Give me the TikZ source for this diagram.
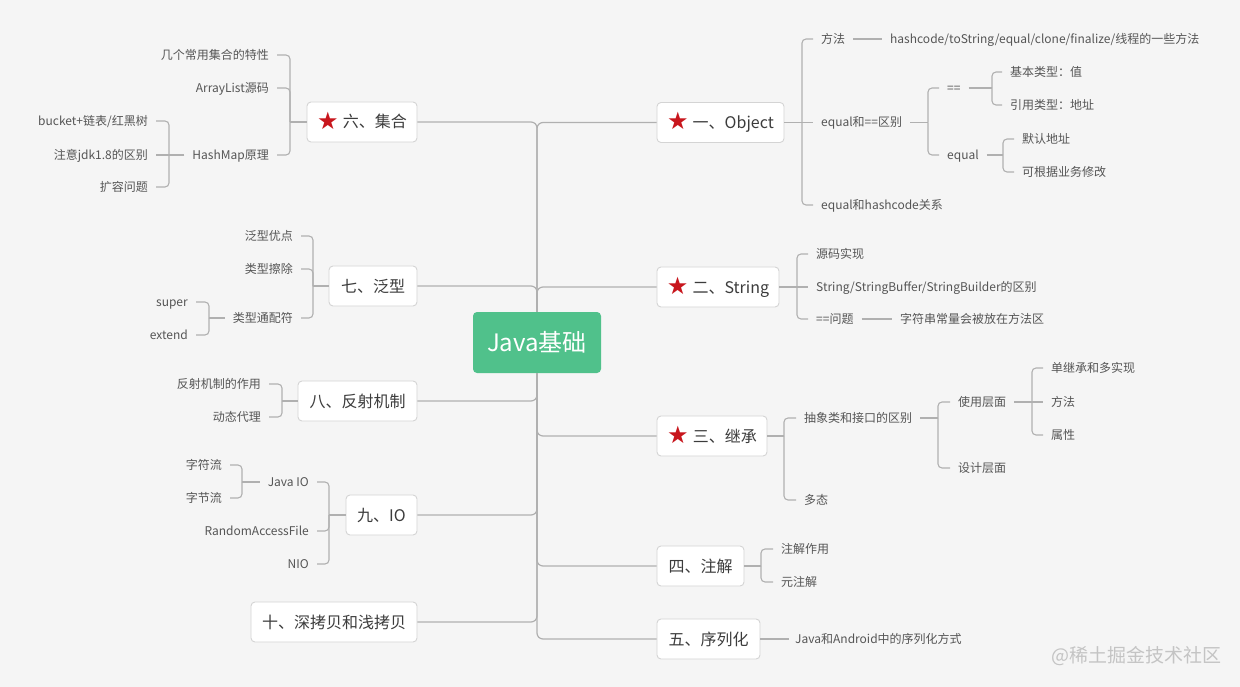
\documentclass[tikz,border=0pt]{standalone}
\usepackage{fontspec}
\setmainfont{Noto Sans CJK SC}
\newfontfamily\symfont{DejaVu Sans}
\definecolor{bgc}{HTML}{F5F5F5}
\definecolor{lnc}{HTML}{B0B0B0}
\definecolor{boxc}{HTML}{D4D4D4}
\definecolor{tc}{HTML}{555555}
\definecolor{mtc}{HTML}{3C3C3C}
\definecolor{starred}{HTML}{C8161D}
\definecolor{rootc}{HTML}{50C18B}
\definecolor{wmc}{HTML}{C4C4C4}
\newcommand\rstar{\raisebox{-1.5pt}{\symfont\fontsize{24}{24}\selectfont\color{starred}★}\hspace{4pt}}
\begin{document}
\begin{tikzpicture}[x=1pt,y=-1pt,
  box/.style={draw=boxc, fill=white, rounded corners=4pt, line width=0.9pt, minimum height=40pt, inner sep=0pt, font=\fontsize{16}{19}\selectfont, text=mtc, text height=14pt, text depth=2pt},
  leaf/.style={inner xsep=8pt, inner ysep=0pt, font=\fontsize{12}{14}\selectfont, text=tc, text height=10.5pt, text depth=1.5pt},
  lr/.style={leaf, anchor=west},
  ll/.style={leaf, anchor=east},
  ln/.style={draw=lnc, line width=1.1pt, rounded corners=4pt},
  sp/.style={draw=lnc, line width=1.2pt, rounded corners=6pt}]
\fill[bgc] (0,0) rectangle (1240,687);
\useasboundingbox (0,0) rectangle (1240,687);

% root
\node[fill=rootc, rounded corners=4pt, minimum width=128pt, minimum height=61pt, inner sep=0pt, text=white, font=\fontsize{24}{28}\selectfont, text height=21pt, text depth=3pt] (root) at (537,342.5) {Java基础};

% main boxes
\node[box, minimum width=127pt] (obj) at (720.5,122.5) {\rstar 一、Object};
\node[box, minimum width=122pt] (str) at (718,287) {\rstar 二、String};
\node[box, minimum width=110pt] (inh) at (712,436) {\rstar 三、继承};
\node[box, minimum width=87pt] (ann) at (700.5,566) {四、注解};
\node[box, minimum width=103pt] (ser) at (708.5,639) {五、序列化};
\node[box, minimum width=110pt] (col) at (362,122) {\rstar 六、集合};
\node[box, minimum width=88pt] (gen) at (373,286) {七、泛型};
\node[box, minimum width=119pt] (ref) at (357.5,401) {八、反射机制};
\node[box, minimum width=71pt] (io) at (381.5,515) {九、IO};
\node[box, minimum width=166pt] (cpy) at (334,622) {十、深拷贝和浅拷贝};

% spine branches
\draw[sp] (root.north) |- (obj);
\draw[sp] (root.north) |- (str);
\draw[sp] (root.south) |- (inh);
\draw[sp] (root.south) |- (ann);
\draw[sp] (root.south) |- (ser);
\draw[sp] (root.north) |- (col);
\draw[sp] (root.north) |- (gen);
\draw[sp] (root.south) |- (ref);
\draw[sp] (root.south) |- (io);
\draw[sp] (root.south) |- (cpy);

% ---- Object
\node[lr] (o1) at (813,39) {方法};
\node[lr] (oh) at (882,39) {hashcode/toString/equal/clone/finalize/线程的一些方法};
\node[lr] (o2) at (813,122.5) {equal和==区别};
\node[lr] (o3) at (813,205) {equal和hashcode关系};
\node[lr] (eq1) at (939,88) {==};
\node[lr] (eq2) at (939,155) {equal};
\node[lr] (b1) at (1002,72) {基本类型：值};
\node[lr] (b2) at (1002,105) {引用类型：地址};
\node[lr] (d1) at (1014,139) {默认地址};
\node[lr] (d2) at (1014,172) {可根据业务修改};
\coordinate (bO) at (802,122.5);
\coordinate (bE) at (928,122.5);
\coordinate (bEq) at (992,88);
\coordinate (bEl) at (1003,155);
\draw[ln] (obj) -- (o2);
\draw[ln] (bO) |- (o1);
\draw[ln] (bO) |- (o3);
\draw[ln] (o1) -- (oh);
\draw[ln] (o2) -- (bE);
\draw[ln] (bE) |- (eq1);
\draw[ln] (bE) |- (eq2);
\draw[ln] (eq1) -- (bEq);
\draw[ln] (bEq) |- (b1);
\draw[ln] (bEq) |- (b2);
\draw[ln] (eq2) -- (bEl);
\draw[ln] (bEl) |- (d1);
\draw[ln] (bEl) |- (d2);

% ---- String
\node[lr] (s1) at (808,254) {源码实现};
\node[lr] (s2) at (808,287) {String/StringBuffer/StringBuilder的区别};
\node[lr] (s3) at (808,319) {==问题};
\node[lr] (s4) at (892,319) {字符串常量会被放在方法区};
\coordinate (bS) at (797,287);
\draw[ln] (str) -- (s2);
\draw[ln] (bS) |- (s1);
\draw[ln] (bS) |- (s3);
\draw[ln] (s3) -- (s4);

% ---- 继承
\node[lr] (i1) at (796,418) {抽象类和接口的区别};
\node[lr] (i2) at (796,500) {多态};
\node[lr] (u1) at (950,402) {使用层面};
\node[lr] (u2) at (950,468) {设计层面};
\node[lr] (m1) at (1043,368) {单继承和多实现};
\node[lr] (m2) at (1043,402) {方法};
\node[lr] (m3) at (1043,435) {属性};
\coordinate (bI) at (784,436);
\coordinate (bA) at (938,418);
\coordinate (bU) at (1032,402);
\draw[ln] (inh) -- (bI);
\draw[ln] (bI) |- (i1);
\draw[ln] (bI) |- (i2);
\draw[ln] (i1) -- (bA);
\draw[ln] (bA) |- (u1);
\draw[ln] (bA) |- (u2);
\draw[ln] (u1) -- (m2);
\draw[ln] (bU) |- (m1);
\draw[ln] (bU) |- (m3);

% ---- 注解
\node[lr] (a1) at (773,549) {注解作用};
\node[lr] (a2) at (773,582) {元注解};
\coordinate (bN) at (761,566);
\draw[ln] (ann) -- (bN);
\draw[ln] (bN) |- (a1);
\draw[ln] (bN) |- (a2);

% ---- 序列化
\node[lr, inner xsep=6pt, font=\fontsize{12}{14}\selectfont] (z1) at (789,639) {Java和Android中的序列化方式};
\draw[ln] (ser) -- (z1);

% ---- 集合
\node[ll] (c1) at (277,55) {几个常用集合的特性};
\node[ll] (c2) at (277,88) {ArrayList源码};
\node[ll] (c3) at (277,155) {HashMap原理};
\node[ll] (h1) at (156,121) {bucket+链表/红黑树};
\node[ll] (h2) at (156,155) {注意jdk1.8的区别};
\node[ll] (h3) at (156,187) {扩容问题};
\coordinate (bC) at (290,122);
\coordinate (bH) at (169,155);
\draw[ln] (col) -- (bC);
\draw[ln] (bC) |- (c1);
\draw[ln] (bC) |- (c2);
\draw[ln] (bC) |- (c3);
\draw[ln] (c3) -- (h2);
\draw[ln] (bH) |- (h1);
\draw[ln] (bH) |- (h3);

% ---- 泛型
\node[ll] (g1) at (301,236) {泛型优点};
\node[ll] (g2) at (301,269) {类型擦除};
\node[ll] (g3) at (301,318) {类型通配符};
\node[ll] (w1) at (196,302) {super};
\node[ll] (w2) at (196,335) {extend};
\coordinate (bG) at (313,286);
\coordinate (bW) at (209,318);
\draw[ln] (gen) -- (bG);
\draw[ln] (bG) |- (g1);
\draw[ln] (bG) |- (g2);
\draw[ln] (bG) |- (g3);
\draw[ln] (g3) -- (bW);
\draw[ln] (bW) |- (w1);
\draw[ln] (bW) |- (w2);

% ---- 反射
\node[ll] (r1) at (269,384) {反射机制的作用};
\node[ll] (r2) at (269,417) {动态代理};
\coordinate (bR) at (282,401);
\draw[ln] (ref) -- (bR);
\draw[ln] (bR) |- (r1);
\draw[ln] (bR) |- (r2);

% ---- IO
\node[ll] (j1) at (317,482) {Java IO};
\node[ll] (j2) at (317,531) {RandomAccessFile};
\node[ll] (j3) at (317,564) {NIO};
\node[ll] (k1) at (230,465) {字符流};
\node[ll] (k2) at (230,498) {字节流};
\coordinate (bJ) at (329,515);
\coordinate (bK) at (242,482);
\draw[ln] (io) -- (bJ);
\draw[ln] (bJ) |- (j1);
\draw[ln] (bJ) |- (j2);
\draw[ln] (bJ) |- (j3);
\draw[ln] (j1) -- (bK);
\draw[ln] (bK) |- (k1);
\draw[ln] (bK) |- (k2);

% watermark
\node[anchor=east, inner sep=0pt, text=wmc, font=\fontsize{19}{22}\selectfont] (wm) at (1222,656) {@稀土掘金技术社区};
\end{tikzpicture}
\end{document}
